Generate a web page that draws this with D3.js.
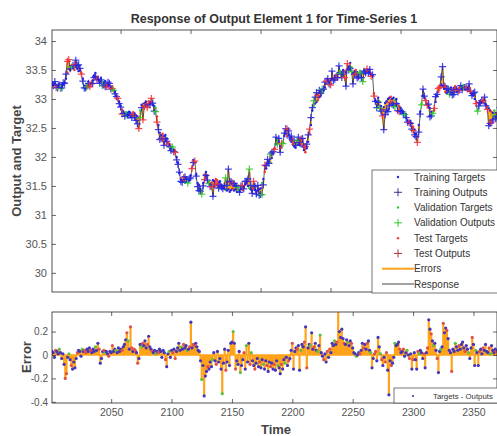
<!DOCTYPE html>
<html><head><meta charset="utf-8">
<script src="https://cdn.jsdelivr.net/npm/d3@7"></script>
<style>body{margin:0;background:#fff;overflow:hidden} text{font-family:"Liberation Sans",Arial,sans-serif;}</style>
</head><body><svg id="c" width="497" height="436"></svg>
<script>
const startTime = 2001;
const targets = [
33.27,33.25,33.28,33.24,33.22,33.26,33.23,33.21,33.25,33.28,
33.35,33.45,33.52,33.50,33.56,33.54,33.50,33.55,33.52,33.48,
33.50,33.45,33.35,33.22,33.18,33.26,33.30,33.25,33.28,33.32,
33.40,33.45,33.38,33.35,33.32,33.36,33.30,33.28,33.31,33.26,
33.22,33.24,33.20,33.22,33.17,33.12,33.05,33.00,32.95,32.88,
32.82,32.78,32.75,32.77,32.74,32.78,32.76,32.73,32.77,32.75,
32.72,32.70,32.68,32.80,32.90,32.88,32.93,32.95,32.90,32.96,
32.92,32.94,32.90,32.88,32.85,32.70,32.55,32.42,32.38,32.40,
32.36,32.38,32.32,32.25,32.20,32.15,32.18,32.12,32.10,32.00,
31.90,31.72,31.62,31.58,31.60,31.56,31.62,31.58,31.60,31.68,
31.82,31.95,31.90,31.70,31.55,31.52,31.45,31.43,31.55,31.70,
31.74,31.68,31.58,31.54,31.56,31.60,31.58,31.62,31.60,31.56,
31.58,31.52,31.48,31.45,31.43,31.42,31.44,31.40,31.43,31.45,
31.42,31.44,31.40,31.43,31.41,31.45,31.43,31.48,31.52,31.55,
31.50,31.46,31.44,31.42,31.45,31.43,31.40,31.42,31.44,31.46,
31.55,31.62,31.74,31.80,31.88,31.92,31.90,31.98,32.05,32.15,
32.22,32.30,32.26,32.18,32.16,32.25,32.36,32.40,32.36,32.38,
32.30,32.26,32.22,32.18,32.16,32.20,32.22,32.20,32.22,32.18,
32.12,32.08,32.15,32.26,32.40,32.55,32.80,32.88,32.92,32.95,
32.98,33.03,33.06,33.10,33.15,33.20,33.26,33.32,33.30,33.34,
33.36,33.35,33.40,33.42,33.45,33.44,33.48,33.46,33.50,33.48,
33.46,33.50,33.56,33.62,33.55,33.45,33.48,33.50,33.46,33.42,
33.48,33.45,33.47,33.50,33.44,33.48,33.46,33.45,33.42,33.40,
33.10,32.98,32.95,33.02,32.96,32.88,32.82,32.86,32.93,32.96,
33.00,33.02,33.04,33.00,33.02,32.98,33.00,32.92,32.88,32.85,
32.80,32.76,32.72,32.68,32.62,32.60,32.62,32.58,32.52,32.47,
32.40,32.35,32.55,32.78,32.92,33.06,33.02,32.98,32.92,32.86,
32.84,32.78,32.76,32.80,32.95,33.06,33.12,33.22,33.25,33.22,
33.18,33.12,33.10,33.15,33.18,33.20,33.16,33.19,33.22,33.18,
33.15,33.20,33.22,33.18,33.24,33.20,33.16,33.18,33.14,33.10,
33.08,33.06,33.00,32.95,32.80,32.92,32.96,32.94,32.98,32.92,
32.90,32.88,32.84,32.80,32.78,32.76,32.80,32.76,32.74,32.72,
32.70,32.74,32.72,32.68,32.70,32.66,32.68,32.72,32.70,32.74,
32.76,32.72,32.70,32.74,32.78,32.75,32.72,32.70,32.68,32.72,
32.74,32.70,32.66,32.68,32.72,32.70,32.74,32.76,32.72,32.70,
32.68,32.72,32.70,32.66,32.68,32.72,32.74,32.70,32.68,32.66,
32.70,32.72,32.68,32.66,32.70,32.74,32.72,32.68,32.70,32.72];
const errors = [
0.03,0.02,-0.02,0.04,0.03,0.01,0.05,0.02,-0.03,0.01,
-0.08,-0.20,-0.16,-0.02,0.01,-0.04,-0.09,-0.12,-0.06,-0.11,
-0.03,0.02,0.04,0.03,-0.01,0.05,0.03,0.04,0.02,0.05,
0.03,0.06,0.04,0.02,0.05,0.03,0.07,0.04,0.10,0.05,
-0.07,-0.03,0.03,0.04,0.02,0.03,0.01,-0.01,0.03,0.02,
0.08,0.03,0.05,0.04,0.02,0.06,0.03,0.05,0.04,0.07,
0.09,0.13,0.19,0.12,0.05,0.24,0.06,0.03,0.05,0.04,
0.02,-0.07,-0.03,0.09,0.07,0.10,0.08,0.12,0.06,0.09,
0.16,0.07,0.05,0.03,0.02,0.04,0.01,0.03,0.02,0.05,
0.03,-0.02,0.04,0.02,-0.04,-0.10,0.01,0.03,-0.02,0.04,
0.02,0.05,-0.03,0.03,0.06,0.10,0.04,0.07,0.05,0.09,
0.06,0.08,0.04,0.05,0.07,0.28,0.06,0.09,0.08,0.10,
0.07,0.04,0.03,-0.05,-0.21,-0.09,-0.35,-0.18,-0.14,-0.10,
-0.12,-0.06,-0.10,-0.04,0.02,-0.05,-0.08,0.03,-0.06,-0.03,
-0.12,-0.33,-0.07,0.05,-0.13,-0.06,0.04,-0.09,0.10,0.11,
0.20,0.10,-0.12,-0.05,-0.08,0.03,-0.15,-0.09,-0.04,0.02,
-0.12,0.08,-0.06,0.10,-0.08,0.02,-0.05,-0.09,-0.12,-0.07,
-0.03,-0.10,-0.06,-0.11,-0.04,-0.08,-0.12,-0.05,-0.09,-0.14,
-0.06,-0.10,-0.07,-0.12,-0.08,-0.13,-0.05,-0.09,-0.11,-0.16,
-0.08,-0.12,-0.04,-0.07,-0.02,-0.09,-0.05,-0.03,0.04,0.10,
-0.12,0.03,0.06,0.05,0.08,-0.13,0.04,0.09,0.07,0.11,
0.24,-0.11,0.06,0.09,0.08,0.19,0.05,0.07,0.10,0.04,
0.03,0.08,0.17,0.02,-0.01,-0.04,0.01,-0.06,0.03,-0.02,
0.05,0.02,0.10,0.08,0.12,0.09,0.11,0.39,0.20,0.15,
0.22,0.14,0.10,0.09,0.13,0.11,0.08,0.12,0.10,0.06,
0.02,0.01,-0.01,0.00,0.02,0.01,0.04,0.10,0.06,0.09,
0.05,0.10,0.12,0.04,0.02,-0.11,-0.03,0.01,0.03,-0.05,
0.15,0.07,0.01,-0.04,-0.09,-0.02,-0.06,0.02,-0.13,-0.34,
-0.05,-0.09,-0.07,-0.02,0.10,0.08,0.09,0.11,0.05,0.02,
0.03,0.05,-0.01,0.02,0.04,0.00,-0.03,0.01,-0.12,-0.04,
0.02,-0.04,-0.12,0.03,0.01,0.04,0.02,-0.03,0.01,-0.11,
0.02,0.06,0.30,0.22,0.18,0.12,0.08,0.10,0.04,-0.03,
-0.15,0.03,0.05,0.07,0.27,0.19,0.23,0.21,0.14,0.04,
0.02,-0.14,0.05,0.03,0.10,0.07,0.04,0.08,0.05,0.09,
0.11,0.06,0.03,0.08,0.05,0.02,-0.03,0.06,0.15,0.09,
-0.09,0.04,0.02,-0.09,0.03,0.05,0.01,0.06,0.04,0.09,
0.03,0.02,0.06,0.01,0.08,0.04,0.02,0.05,0.03,0.04];
// t = training, v = validation, s = test
const groupCodes = [
"tttsttvttt","tsstvtsttt","tstttvtsst","ttstttvtts","tttsvttstt","sttvttttst","ttsvtsstss","tsttvsttts",
"tttsttvtst","ttttsttvtt","ststtttvts","ttvtsttsst","ttttvtttts","tttvttsttt","tvttsttttt","vtstttvtts",
"tvttsvttst","ttsttvttst","tsttsttvtt","sttvttstts","tttsttvtts","tsttvttstt","vtvttsttst","stttvtsttt",
"ttsttvttst","ttvttsttst","tsttvttsst","ttvsttsstt","tsttvtttst","tsttvtstts","tttsvtttst","tsttstvtts",
"ttvtsttstt","tsttvttstt","ttsttvttst","tvttsttstt","ttsvttttst"].join("");
const xTicks = [2050,2100,2150,2200,2250,2300,2350];
const yTicksTop = [30,30.5,31,31.5,32,32.5,33,33.5,34];
const yTicksErr = [-0.4,-0.2,0,0.2];
const legendLabels = ["Training Targets","Training Outputs","Validation Targets","Validation Outputs","Test Targets","Test Outputs","Errors","Response"];
const chartTitle = "Response of Output Element 1 for Time-Series 1";

const colors = {t:"#2323e6", v:"#2fcc2f", s:"#f5303a"};
const orange = "#ffa31a";
const data = targets.map((v,i)=>({t:startTime+i, target:v, err:errors[i], output:v-errors[i], g:groupCodes[i]||"t"}));

const svg = d3.select("#c");
const pTop = {l:52, r:497, t:30, b:292};
const pBot = {l:52, r:497, t:312, b:403};

const xTop = d3.scaleLinear().domain([2001, 2318.9]).range([pTop.l, pTop.r]);
const yTop = d3.scaleLinear().domain([29.67, 34.19]).range([pTop.b, pTop.t]);
const xBot = d3.scaleLinear().domain([2001, 2369.5]).range([pBot.l, pBot.r]);
const yBot = d3.scaleLinear().domain([-0.41, 0.367]).range([pBot.b, pBot.t]);

const defs = svg.append("defs");
defs.append("clipPath").attr("id","ct").append("rect").attr("x",pTop.l).attr("y",pTop.t).attr("width",pTop.r-pTop.l).attr("height",pTop.b-pTop.t);
defs.append("clipPath").attr("id","cb").append("rect").attr("x",pBot.l).attr("y",pBot.t).attr("width",pBot.r-pBot.l).attr("height",pBot.b-pBot.t);

const axisColor = "#262626", tickText = "#555";
function styleAxis(g){
  g.select(".domain").remove();
  g.selectAll("line").attr("stroke",axisColor).attr("stroke-width",0.7);
  g.selectAll("text").attr("fill",tickText).style("font-family","'Liberation Sans',Arial,sans-serif");
}

// ---------- TOP PANEL ----------
svg.append("rect").attr("x",pTop.l).attr("y",pTop.t).attr("width",pTop.r-pTop.l).attr("height",pTop.b-pTop.t).attr("fill","#fff");
const gt = svg.append("g").attr("clip-path","url(#ct)");
gt.selectAll("line.e").data(data).join("line")
  .attr("x1",d=>xTop(d.t)).attr("x2",d=>xTop(d.t))
  .attr("y1",d=>yTop(d.target)).attr("y2",d=>yTop(d.output))
  .attr("stroke",orange).attr("stroke-width",1.8);
gt.append("path").datum(data).attr("fill","none").attr("stroke","#333").attr("stroke-width",0.8)
  .attr("d",d3.line().x(d=>xTop(d.t)).y(d=>yTop(d.output)));
gt.selectAll("circle.tg").data(data).join("circle")
  .attr("cx",d=>xTop(d.t)).attr("cy",d=>yTop(d.target)).attr("r",1.2).attr("fill",d=>colors[d.g]);
const ps = 3.5;
gt.selectAll("path.op").data(data).join("path")
  .attr("d",d=>{const x=xTop(d.t), y=yTop(d.output); return `M${x-ps},${y}h${2*ps}M${x},${y-ps}v${2*ps}`;})
  .attr("stroke",d=>colors[d.g]).attr("stroke-width",1.25).attr("opacity",0.85);

svg.append("g").attr("transform",`translate(${pTop.l},0)`)
  .call(d3.axisLeft(yTop).tickValues(yTicksTop).tickFormat(d3.format("")).tickSizeInner(-4).tickSizeOuter(0).tickPadding(5))
  .call(styleAxis).selectAll("text").attr("font-size",11);
svg.append("g").attr("transform",`translate(${pTop.r},0)`)
  .call(d3.axisRight(yTop).tickValues(yTicksTop).tickFormat("").tickSizeInner(-4).tickSizeOuter(0)).call(styleAxis);
svg.append("g").attr("transform",`translate(0,${pTop.b})`)
  .call(d3.axisBottom(xTop).tickValues(xTicks).tickFormat("").tickSizeInner(-4).tickSizeOuter(0)).call(styleAxis);
svg.append("g").attr("transform",`translate(0,${pTop.t})`)
  .call(d3.axisTop(xTop).tickValues(xTicks).tickFormat("").tickSizeInner(-4).tickSizeOuter(0)).call(styleAxis);
svg.append("rect").attr("x",pTop.l).attr("y",pTop.t).attr("width",pTop.r-pTop.l).attr("height",pTop.b-pTop.t)
  .attr("fill","none").attr("stroke",axisColor).attr("stroke-width",0.8);

svg.append("text").attr("x",274).attr("y",23).attr("text-anchor","middle").attr("font-size",12.5)
  .attr("font-weight","bold").attr("fill","#333").text(chartTitle);
svg.append("text").attr("transform","translate(21,161) rotate(-90)").attr("text-anchor","middle")
  .attr("font-size",13).attr("font-weight","bold").attr("fill","#454545").text("Output and Target");

const lg = svg.append("g");
lg.append("rect").attr("x",372).attr("y",170).attr("width",130).attr("height",123)
  .attr("fill","#fff").attr("stroke","#555").attr("stroke-width",0.8);
const legY = d3.scalePoint().domain(legendLabels).range([177,284]);
const legColor = ["t","t","v","v","s","s"];
legendLabels.forEach((lab,i)=>{
  const y = legY(lab);
  if(i<6){
    const c = colors[legColor[i]];
    if(i%2===0) lg.append("circle").attr("cx",398).attr("cy",y).attr("r",1.2).attr("fill",c);
    else lg.append("path").attr("d",`M${394},${y}h8M${398},${y-4}v8`).attr("stroke",i===1?"#3b2f8f":(i===5?"#b0303a":c)).attr("stroke-width",1);
  } else {
    lg.append("line").attr("x1",382).attr("x2",414).attr("y1",y).attr("y2",y)
      .attr("stroke",i===6?orange:"#444").attr("stroke-width",i===6?2:1);
  }
  lg.append("text").attr("x",414).attr("y",y+3.5).attr("font-size",10).attr("fill","#333").text(lab);
});

// ---------- BOTTOM PANEL ----------
svg.append("rect").attr("x",pBot.l).attr("y",pBot.t).attr("width",pBot.r-pBot.l).attr("height",pBot.b-pBot.t).attr("fill","#fff");
const gb = svg.append("g").attr("clip-path","url(#cb)");
gb.append("line").attr("x1",pBot.l).attr("x2",pBot.r).attr("y1",yBot(0)).attr("y2",yBot(0)).attr("stroke",orange).attr("stroke-width",1.5);
gb.selectAll("line.s").data(data).join("line")
  .attr("x1",d=>xBot(d.t)).attr("x2",d=>xBot(d.t)).attr("y1",yBot(0)).attr("y2",d=>yBot(d.err))
  .attr("stroke",orange).attr("stroke-width",2.2);
gb.selectAll("circle.d").data(data).join("circle")
  .attr("cx",d=>xBot(d.t)).attr("cy",d=>yBot(d.err)).attr("r",1.6)
  .attr("fill",d=>d.g==="t"?"#4535b8":(d.g==="v"?"#5fbf3f":"#e0504a"));

svg.append("g").attr("transform",`translate(${pBot.l},0)`)
  .call(d3.axisLeft(yBot).tickValues(yTicksErr).tickFormat(d=>d===0?"0":d3.format(".1f")(d).replace("−","-")).tickSizeInner(-4).tickSizeOuter(0).tickPadding(4))
  .call(styleAxis).selectAll("text").attr("font-size",10);
svg.append("g").attr("transform",`translate(${pBot.r},0)`)
  .call(d3.axisRight(yBot).tickValues(yTicksErr).tickFormat("").tickSizeInner(-4).tickSizeOuter(0)).call(styleAxis);
svg.append("g").attr("transform",`translate(0,${pBot.b})`)
  .call(d3.axisBottom(xBot).tickValues(xTicks).tickFormat(d3.format("d")).tickSizeInner(-4).tickSizeOuter(0).tickPadding(6))
  .call(styleAxis).selectAll("text").attr("font-size",10.5);
svg.append("g").attr("transform",`translate(0,${pBot.t})`)
  .call(d3.axisTop(xBot).tickValues(xTicks).tickFormat("").tickSizeInner(-4).tickSizeOuter(0)).call(styleAxis);
svg.append("rect").attr("x",pBot.l).attr("y",pBot.t).attr("width",pBot.r-pBot.l).attr("height",pBot.b-pBot.t)
  .attr("fill","none").attr("stroke",axisColor).attr("stroke-width",0.8);

svg.append("text").attr("transform","translate(31,357) rotate(-90)").attr("text-anchor","middle")
  .attr("font-size",13).attr("font-weight","bold").attr("fill","#454545").text("Error");
svg.append("text").attr("x",276).attr("y",434).attr("text-anchor","middle")
  .attr("font-size",13).attr("font-weight","bold").attr("fill","#454545").text("Time");

svg.append("rect").attr("x",394).attr("y",388).attr("width",110).attr("height",15)
  .attr("fill","#fff").attr("stroke","#555").attr("stroke-width",0.8);
svg.append("circle").attr("cx",413).attr("cy",396).attr("r",1.1).attr("fill","#4535b8");
svg.append("text").attr("x",433).attr("y",398.5).attr("font-size",7.8).attr("fill","#333").text("Targets - Outputs");
</script></body></html>
